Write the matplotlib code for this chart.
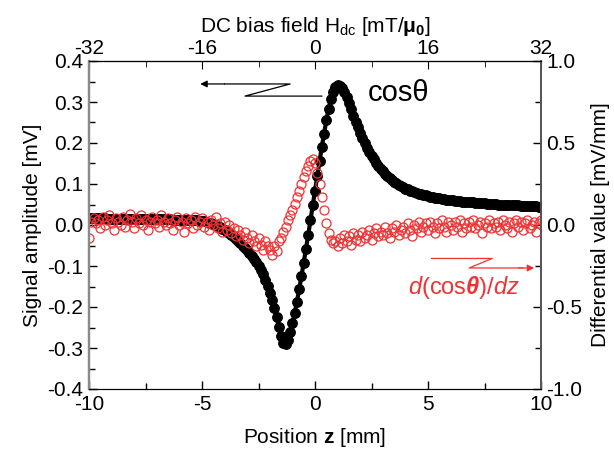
import matplotlib
matplotlib.use("Agg")
import matplotlib.pyplot as plt
import numpy as np
from matplotlib.ticker import MultipleLocator

plt.rcParams['font.family'] = ['Liberation Sans', 'DejaVu Sans']
plt.rcParams['mathtext.fontset'] = 'custom'
plt.rcParams['mathtext.rm'] = 'Liberation Sans'
plt.rcParams['mathtext.it'] = 'Liberation Sans:italic'
plt.rcParams['mathtext.bf'] = 'Liberation Sans:bold'
plt.rcParams['mathtext.bfit'] = 'Liberation Sans:italic:bold'
plt.rcParams['axes.unicode_minus'] = False

# position grid z [mm], 0.1 mm step
z = np.linspace(-10, 10, 201)

# signal amplitude cos(theta) [mV]
cos_signal = [
    0.016, 0.016, 0.016, 0.016, 0.016, 0.016, 0.016, 0.016, 0.015, 0.015,
    0.015, 0.015, 0.015, 0.015, 0.015, 0.015, 0.015, 0.015, 0.015, 0.015,
    0.015, 0.015, 0.015, 0.015, 0.015, 0.014, 0.014, 0.014, 0.014, 0.014,
    0.014, 0.014, 0.014, 0.014, 0.014, 0.014, 0.014, 0.013, 0.013, 0.013,
    0.013, 0.013, 0.013, 0.013, 0.012, 0.012, 0.012, 0.011, 0.011, 0.010,
    0.010, 0.009, 0.008, 0.006, 0.004, 0.002, 0.000, -0.003, -0.006, -0.009,
    -0.012, -0.016, -0.020, -0.024, -0.029, -0.034, -0.039, -0.044, -0.050, -0.056,
    -0.062, -0.068, -0.075, -0.082, -0.090, -0.099, -0.109, -0.120, -0.133, -0.148,
    -0.165, -0.183, -0.203, -0.225, -0.248, -0.270, -0.287, -0.290, -0.280, -0.262,
    -0.240, -0.215, -0.187, -0.157, -0.125, -0.092, -0.058, -0.024, 0.012, 0.048,
    0.084, 0.120, 0.155, 0.190, 0.223, 0.255, 0.283, 0.307, 0.325, 0.336,
    0.341, 0.340, 0.334, 0.324, 0.311, 0.297, 0.282, 0.267, 0.252, 0.238,
    0.225, 0.212, 0.200, 0.189, 0.179, 0.169, 0.160, 0.152, 0.144, 0.137,
    0.131, 0.125, 0.119, 0.114, 0.110, 0.106, 0.102, 0.098, 0.095, 0.092,
    0.089, 0.087, 0.084, 0.082, 0.080, 0.078, 0.076, 0.075, 0.073, 0.072,
    0.070, 0.069, 0.068, 0.067, 0.066, 0.065, 0.064, 0.063, 0.062, 0.061,
    0.061, 0.060, 0.059, 0.059, 0.058, 0.057, 0.057, 0.056, 0.056, 0.055,
    0.055, 0.054, 0.054, 0.053, 0.053, 0.053, 0.052, 0.052, 0.051, 0.051,
    0.051, 0.050, 0.050, 0.050, 0.049, 0.049, 0.049, 0.048, 0.048, 0.048,
    0.048, 0.047, 0.047, 0.047, 0.047, 0.046, 0.046, 0.046, 0.046, 0.045,
    0.045,
]

# differential value d(cos)/dz [mV/mm]
diff_signal = [
    -0.08, 0.02, 0.04, 0.01, 0.03, -0.02, 0.05, 0.00, 0.03, 0.06,
    0.01, -0.03, 0.04, 0.02, 0.00, 0.05, -0.01, 0.03, 0.07, 0.02,
    -0.02, 0.04, 0.01, 0.06, 0.00, 0.03, -0.03, 0.02, 0.05, 0.01,
    0.03, -0.01, 0.06, 0.02, 0.00, 0.04, 0.01, -0.03, 0.03, 0.05,
    0.00, 0.02, -0.04, 0.04, 0.01, 0.03, -0.02, 0.05, 0.00, 0.02,
    0.04, -0.01, 0.02, -0.03, 0.03, 0.00, 0.05, -0.02, 0.01, -0.04,
    0.02, -0.03, 0.00, -0.05, -0.02, -0.07, -0.03, -0.06, -0.09, -0.04,
    -0.08, -0.11, -0.06, -0.10, -0.13, -0.08, -0.12, -0.15, -0.10, -0.13,
    -0.15, -0.18, -0.13, -0.16, -0.10, -0.08, -0.04, -0.01, 0.03, 0.06,
    0.09, 0.13, 0.17, 0.21, 0.25, 0.29, 0.33, 0.36, 0.39, 0.40,
    0.38, 0.32, 0.25, 0.17, 0.09, 0.01, -0.05, -0.09, -0.11, -0.10,
    -0.13, -0.08, -0.11, -0.06, -0.10, -0.07, -0.12, -0.05, -0.09, -0.06,
    -0.10, -0.04, -0.08, -0.06, -0.03, -0.09, -0.05, -0.02, -0.07, -0.04,
    -0.06, -0.01, -0.05, -0.08, -0.02, -0.04, 0.00, -0.06, -0.03, -0.01,
    -0.05, 0.01, -0.03, -0.07, 0.00, -0.02, 0.02, -0.04, -0.01, 0.01,
    -0.03, 0.02, -0.01, -0.05, 0.01, -0.02, 0.03, -0.01, -0.04, 0.02,
    0.00, -0.03, 0.02, -0.01, 0.03, -0.04, 0.01, -0.02, 0.02, -0.01,
    0.03, -0.02, 0.00, 0.02, -0.05, 0.01, -0.01, 0.03, -0.02, 0.01,
    -0.01, 0.02, -0.03, 0.03, 0.00, -0.02, 0.02, -0.04, 0.01, 0.03,
    -0.01, 0.02, -0.03, 0.01, 0.03, -0.02, 0.00, 0.02, -0.04, 0.01,
    0.03,
]

field_per_mm = 3.2  # mT/mu0 per mm (top axis)
red = '#f03232'

fig = plt.figure(figsize=(6.14, 4.58), dpi=100)
ax = fig.add_axes([89/614, 1-389/458, 452/614, 328/458])
ax2 = ax.twinx()

ax.plot(z, cos_signal, '-', color='black', lw=3, zorder=2)
ax.plot(z, cos_signal, 'o', color='black', ms=6.8, zorder=3)
ax2.plot(z, diff_signal, 'o', mfc='none', mec=red, mew=0.9, ms=6.5)

ax.set_xlim(-10, 10)
ax.set_ylim(-0.4, 0.4)
ax2.set_ylim(-1.0, 1.0)

ax.xaxis.set_major_locator(MultipleLocator(5))
ax.xaxis.set_minor_locator(MultipleLocator(2.5))
ax.yaxis.set_major_locator(MultipleLocator(0.1))
ax.yaxis.set_minor_locator(MultipleLocator(0.05))
ax2.yaxis.set_major_locator(MultipleLocator(0.5))
ax2.yaxis.set_minor_locator(MultipleLocator(0.25))
ax.set_yticks(ax.get_yticks())
ax.set_yticklabels([f'{v:.1f}' for v in ax.get_yticks()])
ax2.set_yticks(ax2.get_yticks())
ax2.set_yticklabels([f'{v:.1f}' for v in ax2.get_yticks()])
ax.set_ylim(-0.4, 0.4)
ax2.set_ylim(-1.0, 1.0)

for a in (ax, ax2):
    a.tick_params(which='major', direction='in', length=6, width=1, labelsize=15, pad=4)
    a.tick_params(which='minor', direction='in', length=4, width=1)
ax.tick_params(axis='x', pad=4)

# top axis: DC bias field
top = ax.secondary_xaxis('top', functions=(lambda x: x * field_per_mm,
                                            lambda h: h / field_per_mm))
top.set_xticks([-32, -16, 0, 16, 32])
top.xaxis.set_minor_locator(MultipleLocator(8))
top.tick_params(which='major', direction='in', length=6, labelsize=15, pad=2)
top.tick_params(which='minor', direction='in', length=4)
top.set_xlabel(r'DC bias field H$_{\rm dc}$ [mT/$\mathbf{\mu_0}$]', fontsize=15, labelpad=5)

ax.set_xlabel(r'Position $\mathbf{z}$ [mm]', fontsize=15, labelpad=9)
ax.set_ylabel('Signal amplitude [mV]', fontsize=15, labelpad=4)
ax2.set_ylabel('Differential value [mV/mm]', fontsize=15, labelpad=6)

for a in (ax, ax2):
    a.spines['left'].set_color('#8a8a8a')
    a.spines['left'].set_linewidth(1.6)
    a.spines['right'].set_color('#555555')
    a.spines['right'].set_linewidth(1.3)

# labels with zig-zag arrows
ax.text(0.684, 0.902, 'cosθ', transform=ax.transAxes, fontsize=21,
        ha='center', va='center')
ax.plot([0.515, 0.345, 0.445, 0.30], [0.893, 0.893, 0.930, 0.930],
        color='black', lw=0.9, transform=ax.transAxes)
ax.annotate('', xy=(0.246, 0.930), xytext=(0.30, 0.930), xycoords='axes fraction',
            arrowprops=dict(arrowstyle='-|>', color='black', lw=0.9,
                            mutation_scale=10, shrinkA=0, shrinkB=0))

ax.text(0.83, 0.308, r'$d$(cos$\mathbfit{\theta}$)/$dz$', transform=ax.transAxes,
        fontsize=17, color=red, ha='center', va='center')
ax.plot([0.758, 0.892, 0.841, 0.96], [0.398, 0.398, 0.369, 0.369],
        color=red, lw=0.9, transform=ax.transAxes)
ax.annotate('', xy=(0.985, 0.369), xytext=(0.95, 0.369), xycoords='axes fraction',
            arrowprops=dict(arrowstyle='-|>', color=red, lw=0.9,
                            mutation_scale=10, shrinkA=0, shrinkB=0))

plt.savefig('out.png', dpi=100)
plt.close()
